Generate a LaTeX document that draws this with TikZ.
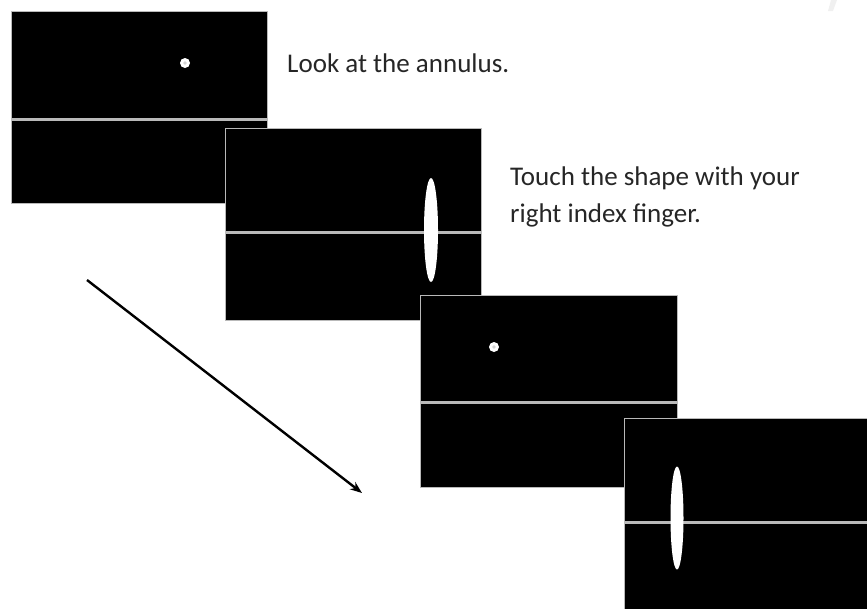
\documentclass[tikz,border=0pt]{standalone}
\usepackage{fontspec}
\setmainfont{Carlito}
\usetikzlibrary{arrows.meta}
\begin{document}
\begin{tikzpicture}[x=1pt,y=-1pt,
  screen/.style={fill=black,draw=gray!55,line width=0.6pt},
  midline/.style={draw=gray!55,line width=3pt},
  fixdot/.style={fill=white},
  bar/.style={fill=white},
  caption/.style={font=\fontsize{27}{37}\selectfont,inner sep=0pt,anchor=base west,align=left,text=black!85},
  timearrow/.style={line width=2.4pt,-{Stealth[length=12pt,width=9pt]}}]
\useasboundingbox (0,0) rectangle (867,608);
% watermark fragment
\fill[gray!12] (831,0) -- (837,0) -- (833,11) -- (828,11) -- cycle;
% screen 1
\draw[screen] (11,11) rectangle (267,203);
\draw[midline] (11,119) -- (267,119);
\fill[fixdot] (185,63) circle (5);
\fill[gray!35] (185,63) circle (1.8);
% screen 2
\draw[screen] (225,128) rectangle (481,320);
\draw[midline] (225,232) -- (481,232);
\fill[bar] (431,230) ellipse (7 and 52);
% screen 3
\draw[screen] (420,295) rectangle (677,487);
\draw[midline] (420,402) -- (677,402);
\fill[fixdot] (494,347) circle (5);
\fill[gray!35] (494,347) circle (1.8);
% screen 4
\draw[screen] (624,418) rectangle (880,610);
\draw[midline] (624,522) -- (867,522);
\fill[bar] (677,518) ellipse (6.5 and 51.5);
% texts
\node[caption] (t1) at (287,72) {Look at the annulus.};
\node[caption] (t2) at (510,222) {Touch the shape with your\\right index finger.};
% arrow
\coordinate (a0) at (87,280);
\coordinate (a1) at (362,493);
\draw[timearrow] (a0) -- (a1);
\end{tikzpicture}
\end{document}
